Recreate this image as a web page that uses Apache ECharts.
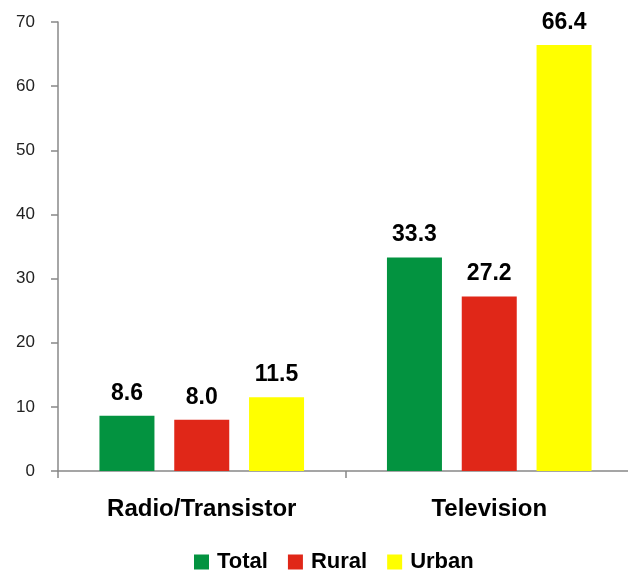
<!DOCTYPE html>
<html>
<head>
<meta charset="utf-8">
<script src="https://cdn.jsdelivr.net/npm/echarts@6/dist/echarts.min.js"></script>
<style>
  html, body { margin: 0; padding: 0; background: #fff; overflow: hidden; }
  #chart { width: 633px; height: 574px; }
</style>
</head>
<body>
<div id="chart"></div>
<script>
var categories = ["Radio/Transistor", "Television"];
var seriesNames = ["Total", "Rural", "Urban"];
var totalValues = [8.6, 33.3];
var ruralValues = [8.0, 27.2];
var urbanValues = [11.5, 66.4];
var yTicks = [0, 10, 20, 30, 40, 50, 60, 70];

var colors = ["#039340", "#E02718", "#FFFF00"];
var font = "Liberation Sans, Arial, sans-serif";

var myChart = echarts.init(document.getElementById("chart"));

function makeSeries(name, data, color) {
  return {
    name: name,
    type: "bar",
    data: data,
    barWidth: 55,
    barGap: "36%",
    itemStyle: { color: color },
    label: {
      show: true,
      position: "top",
      distance: 11,
      color: "#000",
      fontFamily: font,
      fontWeight: "bold",
      fontSize: 23,
      formatter: function (p) { return p.value.toFixed(1); }
    }
  };
}

var option = {
  animation: false,
  grid: { left: 58, right: 0, top: 22, bottom: 103 },
  legend: {
    top: 546,
    left: 189,
    itemWidth: 15,
    itemHeight: 15,
    itemGap: 20,
    icon: "rect",
    textStyle: {
      color: "#000", fontFamily: font, fontWeight: "bold", fontSize: 22,
      padding: [0, 0, 0, 3]
    },
    data: seriesNames
  },
  xAxis: {
    type: "category",
    data: categories,
    axisLine: { lineStyle: { color: "#888", width: 1.5 } },
    axisTick: { show: true, length: 7, lineStyle: { color: "#888", width: 1.5 } },
    axisLabel: { color: "#000", fontFamily: font, fontWeight: "bold", fontSize: 24, margin: 26 }
  },
  yAxis: {
    type: "value",
    min: yTicks[0],
    max: yTicks[yTicks.length - 1],
    interval: 10,
    splitLine: { show: false },
    axisLine: { show: true, lineStyle: { color: "#888", width: 1.5 } },
    axisTick: { show: true, length: 7, lineStyle: { color: "#888", width: 1.5 } },
    axisLabel: { color: "#222", fontFamily: font, fontSize: 17, margin: 23 }
  },
  series: [
    makeSeries(seriesNames[0], totalValues, colors[0]),
    makeSeries(seriesNames[1], ruralValues, colors[1]),
    makeSeries(seriesNames[2], urbanValues, colors[2])
  ]
};

myChart.setOption(option);
</script>
</body>
</html>
